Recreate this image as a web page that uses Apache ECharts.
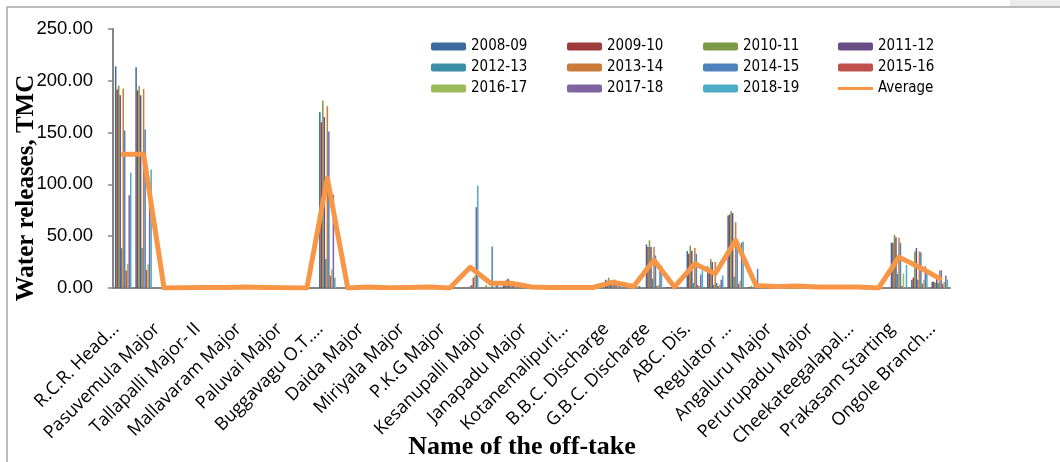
<!DOCTYPE html>
<html>
<head>
<meta charset="utf-8">
<script src="https://cdn.jsdelivr.net/npm/echarts@6/dist/echarts.min.js"></script>
<style>
html,body{margin:0;padding:0;background:#fff;}
#chart{width:1060px;height:462px;}
</style>
</head>
<body>
<div id="chart"></div>
<script>
// Category names (every other one is labelled on the axis)
var categories = [
  "R.C.R. Head...", "Off-take 2", "Pasuvemula Major", "Off-take 4", "Tallapalli Major- II", "Off-take 6",
  "Mallavaram Major", "Off-take 8", "Paluvai Major", "Off-take 10", "Buggavagu O.T....", "Off-take 12",
  "Daida Major", "Off-take 14", "Miriyala Major", "Off-take 16", "P.K.G Major", "Off-take 18",
  "Kesanupalli Major", "Off-take 20", "Janapadu Major", "Off-take 22", "Kotanemalipuri...", "Off-take 24",
  "B.B.C. Discharge", "Off-take 26", "G.B.C. Discharge", "Off-take 28", "ABC. Dis.", "Off-take 30",
  "Regulator ...", "Off-take 32", "Angaluru Major", "Off-take 34", "Perurupadu Major", "Off-take 36",
  "Cheekateegalapal...", "Off-take 38", "Prakasam Starting", "Off-take 40", "Ongole Branch..."
];

var seriesNames = ["2008-09","2009-10","2010-11","2011-12","2012-13","2013-14","2014-15","2015-16","2016-17","2017-18","2018-19"];
var averageName = "Average";

// Values per season (TMC), one entry per category
var y2008_09 = [214,213,0,0,0,0,1,0,0,0,170,0,1,0,0,1,0,0,0,5,1,0,0,0,8,1,42,1,35.6,21,70,1,1,2,1,1,1,0,43.7,8,6];
var y2009_10 = [191.7,190.7,0,0,0,0,1,1,0,0,160,0,1,0,0,1,0,0,0,6,1,0,0,0,7,1,39.5,1,33,18.5,71,1,2,2,1,1,1,0,43.7,10,6];
var y2010_11 = [195.5,194.9,0,0,0,1,1,0,0,0,181,0,1,0,1,1,0,0,3,8,1,0,0,0,10,2,46,1,41,28,74,2,2,2,1,1,1,0,51.4,35.3,5];
var y2011_12 = [186,186,0,0,0,0,1,1,0,0,165,0,1,0,0,1,0,0,0,9,1,0,0,0,6,1,39.5,1,36,25,72.3,0,1,2,1,1,1,0,49,38.5,12.7];
var y2012_13 = [38.5,38.5,0,0,0,0,1,0,0,0,28,0,1,0,0,1,0,0,0,7,1,0,0,0,5,1,9,1,5,3,11,0,1,2,1,1,1,0,13.7,8,5];
var y2013_14 = [192.6,192,0,0,0,0,1,1,0,0,175.5,0,1,0,0,1,0,2,0,6,1,0,0,0,6,2,39.5,1,38.5,25,63.6,2,2,2,1,1,1,0,48.5,35.3,17];
var y2014_15 = [152,153,0,0,1,1,1,0,0,0,151,0,1,0,1,1,0,3,40,4,1,0,0,0,8,2,31.4,1,33,5,44,18.5,2,2,1,1,1,0,43.7,34.6,17];
var y2015_16 = [17,17.5,0,0,0,0,1,1,0,0,12,0,1,0,0,1,0,10,0,2,1,0,0,0,3,1,2,1,3,2,4,0,1,2,1,1,1,0,2,4,4];
var y2016_17 = [23.4,23,0,0,0,0,1,0,0,0,18,0,1,0,0,1,0,12,2,3,1,0,0,0,4,2,3,1,2,3.5,7,0,2,2,1,1,1,0,14,8,6];
var y2017_18 = [89.5,92,0,0,1,1,1,1,0,0,90,0,1,0,0,1,0,78,3,0,1,0,0,0,3,2,19,1,13,8,44,0,1,2,1,1,1,0,0,21,12];
var y2018_19 = [111.4,114.5,0,0,0,1,1,0,0,0,10,0,1,0,0,1,0,99,2,0,1,0,0,0,2,1,21.7,1,17,12,45,3,1,2,1,1,1,0,22.4,17,8];
var averageValues = [129,129,0,0.3,0.5,0.5,1,0.5,0.3,0,106,0,1,0.3,0.5,1,0,20,4.6,4.6,1,0.5,0.5,0.5,5.6,1.5,27,1,23.4,13.7,46,2.4,1.5,2,1,1,1,0,29.8,20,9];

var yTicks = [0,50,100,150,200,250];

var seasonData = [y2008_09,y2009_10,y2010_11,y2011_12,y2012_13,y2013_14,y2014_15,y2015_16,y2016_17,y2017_18,y2018_19];
var colors = ["#3D6A9E","#9C3D3B","#7B9A45","#664E85","#3A8EA5","#CB7A38","#4F81BD","#C0504D","#9BBB59","#8064A2","#4BACC6"];
var avgColor = "#F79646";

var series = seasonData.map(function(d, i){
  return {
    name: seriesNames[i], type: 'bar', data: d,
    barGap: '0%', barCategoryGap: '19%',
    itemStyle: {color: colors[i]},
    emphasis: {disabled: true}
  };
});
series.push({
  name: averageName, type: 'line', data: averageValues,
  symbol: 'none', smooth: false, z: 5,
  lineStyle: {color: avgColor, width: 5, cap: 'round', join: 'round'},
  itemStyle: {color: avgColor},
  emphasis: {disabled: true}
});

var legendFont = '"Liberation Sans Narrow", "DejaVu Sans Condensed", sans-serif';
var legendTop = 39;
function mkLegend(names, left, top, h, icon){
  var l = {
    orient: 'vertical', left: left, top: top, padding: 0,
    itemWidth: 35, itemHeight: h, itemGap: 6,
    data: names,
    textStyle: {fontFamily: legendFont, fontSize: 15, lineHeight: 15, color: '#000'},
    selectedMode: false
  };
  if (icon) l.icon = icon;
  return l;
}

var chart = echarts.init(document.getElementById('chart'), null, {renderer: 'canvas'});
chart.setOption({
  animation: false,
  backgroundColor: '#ffffff',
  grid: {left: 113, right: 110, top: 29, bottom: 174, containLabel: false},
  legend: [
    mkLegend([seriesNames[0], seriesNames[4], seriesNames[8]], 431, legendTop, 8),
    mkLegend([seriesNames[1], seriesNames[5], seriesNames[9]], 567, legendTop, 8),
    mkLegend([seriesNames[2], seriesNames[6], seriesNames[10]], 703, legendTop, 8),
    mkLegend([seriesNames[3], seriesNames[7]], 838, legendTop, 8),
    mkLegend([averageName], 838, legendTop + 42, 3, 'rect')
  ],
  xAxis: {
    type: 'category', data: categories,
    axisLine: {show: true, lineStyle: {color: '#868686', width: 2}},
    axisTick: {show: false},
    axisLabel: {interval: 1, rotate: 45, margin: 31, padding: [0, 10, 0, 0], color: '#000', fontFamily: '"Open Sans", sans-serif', fontSize: 18}
  },
  yAxis: {
    type: 'value', min: yTicks[0], max: yTicks[yTicks.length-1], interval: 50,
    axisLine: {show: true, lineStyle: {color: '#868686', width: 2}},
    axisTick: {show: true, length: 5, lineStyle: {color: '#868686', width: 1.5}},
    splitLine: {show: false},
    axisLabel: {formatter: function(v){return v.toFixed(2);}, margin: 20, color: '#000', fontFamily: '"Liberation Sans", Arial, sans-serif', fontSize: 18.5}
  },
  graphic: [
    {type: 'rect', silent: true, shape: {x: 1010, y: 0, width: 60, height: 7}, style: {fill: '#ECECEC'}},
    {type: 'rect', silent: true, shape: {x: 7, y: 7, width: 1100, height: 500}, style: {fill: 'none', stroke: '#A6A6A6', lineWidth: 1.5}},
    {type: 'text', silent: true, x: 27, y: 188, rotation: Math.PI/2,
      style: {text: 'Water releases, TMC', align: 'center', verticalAlign: 'middle', fill: '#000',
        font: 'bold 25px "Liberation Serif", "Times New Roman", serif'}},
    {type: 'text', silent: true, x: 522, y: 447,
      style: {text: 'Name of the off-take', align: 'center', verticalAlign: 'middle', fill: '#000',
        font: 'bold 26px "Liberation Serif", "Times New Roman", serif'}}
  ],
  series: series
});
</script>
</body>
</html>
